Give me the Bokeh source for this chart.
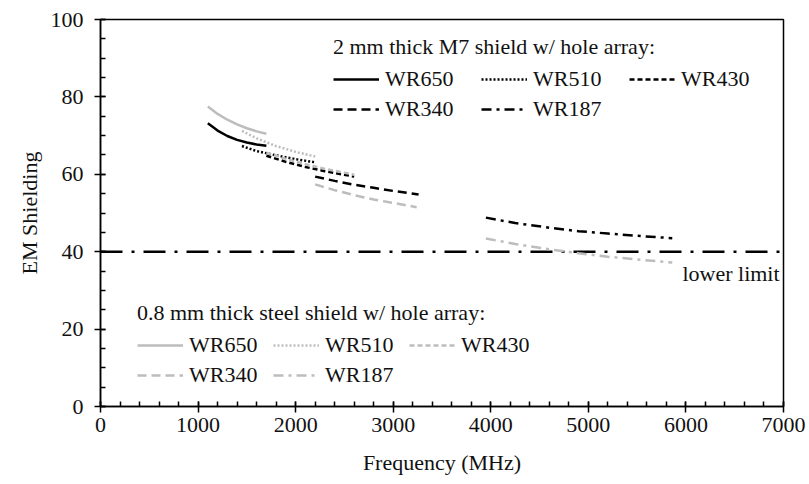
from bokeh.plotting import figure
from bokeh.models import Range1d, SingleIntervalTicker, Legend, LegendItem, Label
from bokeh.embed import file_html
from bokeh.resources import INLINE

# ---- data ----
series_names = ["WR650", "WR510", "WR430", "WR340", "WR187"]

m7_freq = {
    "WR650": [1100, 1200, 1300, 1400, 1500, 1600, 1700],
    "WR510": [1450, 1600, 1800, 2000, 2200],
    "WR430": [1700, 1900, 2100, 2300, 2600],
    "WR340": [2200, 2400, 2600, 2800, 3000, 3260],
    "WR187": [3950, 4250, 4600, 4900, 5200, 5500, 5860],
}
m7_em = {
    "WR650": [73.2, 71.3, 69.9, 68.9, 68.2, 67.7, 67.4],
    "WR510": [67.3, 66.0, 64.9, 63.9, 63.1],
    "WR430": [64.8, 63.2, 61.9, 60.8, 59.4],
    "WR340": [59.4, 58.3, 57.3, 56.5, 55.7, 54.8],
    "WR187": [48.8, 47.4, 46.2, 45.3, 44.7, 44.1, 43.5],
}
steel_freq = {
    "WR650": [1100, 1200, 1300, 1400, 1500, 1600, 1700],
    "WR510": [1450, 1600, 1800, 2000, 2200],
    "WR430": [1700, 1900, 2100, 2300, 2600],
    "WR340": [2200, 2400, 2600, 2800, 3000, 3240],
    "WR187": [3950, 4250, 4600, 4900, 5200, 5500, 5860],
}
steel_em = {
    "WR650": [77.5, 75.6, 74.1, 72.9, 71.9, 71.1, 70.5],
    "WR510": [71.2, 69.3, 67.3, 65.8, 64.6],
    "WR430": [65.6, 64.0, 62.6, 61.4, 59.9],
    "WR340": [57.4, 55.9, 54.6, 53.5, 52.6, 51.5],
    "WR187": [43.4, 42.0, 40.6, 39.6, 38.7, 38.0, 37.2],
}
limit_x = [0, 7000]
limit_y = [40, 40]
limit_label = "lower limit"
limit_label_pos = (6960, 34.4)

dashes = {
    "WR650": "solid",
    "WR510": "2 2",
    "WR430": "5 3",
    "WR340": "9 5",
    "WR187": "10 5 3 5",
}

FONT = "Liberation Serif"
FS = "22px"

p = figure(width=809, height=484, output_backend="svg", toolbar_location=None,
           x_range=Range1d(0, 7000), y_range=Range1d(0, 100),
           min_border_left=100, min_border_right=26, min_border_top=19, min_border_bottom=78)
p.background_fill_color = "white"
p.border_fill_color = "white"
p.outline_line_color = "black"
p.outline_line_width = 1.5
p.xgrid.visible = False
p.ygrid.visible = False

p.xaxis.ticker = SingleIntervalTicker(interval=1000, num_minor_ticks=5)
p.yaxis.ticker = SingleIntervalTicker(interval=20, num_minor_ticks=4)
p.xaxis.axis_label = "Frequency (MHz)"
p.yaxis.axis_label = "EM Shielding"
for ax in (p.xaxis, p.yaxis):
    ax.axis_line_color = "black"
    ax.axis_line_width = 1.5
    ax.major_tick_line_color = "black"
    ax.major_tick_line_width = 1.5
    ax.minor_tick_line_color = "black"
    ax.minor_tick_line_width = 1.5
    ax.major_tick_in = 5
    ax.major_tick_out = 6
    ax.minor_tick_in = 5
    ax.minor_tick_out = 0
    ax.major_label_text_font = FONT
    ax.major_label_text_font_size = FS
    ax.major_label_text_color = "#111111"
    ax.axis_label_text_font = FONT
    ax.axis_label_text_font_size = FS
    ax.axis_label_text_font_style = "normal"
    ax.axis_label_text_color = "#111111"
p.yaxis.major_label_standoff = 11
p.yaxis.axis_label_standoff = 6
p.xaxis.major_label_standoff = 5
p.xaxis.axis_label_standoff = 15

# lower limit
p.line(limit_x, limit_y, line_color="black", line_width=2.5, line_dash="22 9 3 9")
p.add_layout(Label(x=limit_label_pos[0], y=limit_label_pos[1], text=limit_label,
                   text_font=FONT, text_font_size=FS, text_color="#111111",
                   text_align="right", text_baseline="middle"))

m7_items = []
steel_items = []
for name in series_names:
    r1 = p.line(m7_freq[name], m7_em[name], line_color="black", line_width=2.5,
                line_dash=dashes[name])
    m7_items.append(LegendItem(label=name, renderers=[r1]))
for name in series_names:
    r2 = p.line(steel_freq[name], steel_em[name], line_color="#bdbdbd", line_width=2.5,
                line_dash=dashes[name])
    steel_items.append(LegendItem(label=name, renderers=[r2]))


def make_legend(items, title, loc, lw):
    lg = Legend(items=items, location=loc, title=title, orientation="horizontal", ncols=3)
    lg.title_text_font = FONT
    lg.title_text_font_size = FS
    lg.title_text_font_style = "normal"
    lg.title_text_color = "#111111"
    lg.title_standoff = 6
    lg.label_text_font = FONT
    lg.label_text_font_size = FS
    lg.label_text_color = "#111111"
    lg.label_width = lw
    lg.label_height = 22
    lg.glyph_width = 46
    lg.glyph_height = 22
    lg.label_standoff = 6
    lg.spacing = 4
    lg.padding = 0
    lg.margin = 0
    lg.border_line_alpha = 0
    lg.background_fill_alpha = 0
    return lg


p.add_layout(make_legend(m7_items, "2 mm thick M7 shield w/ hole array:", (233, 284), 92))
p.add_layout(make_legend(steel_items, "0.8 mm thick steel shield w/ hole array:", (37, 18), 80))

open("out.html", "w").write(file_html(p, INLINE))
